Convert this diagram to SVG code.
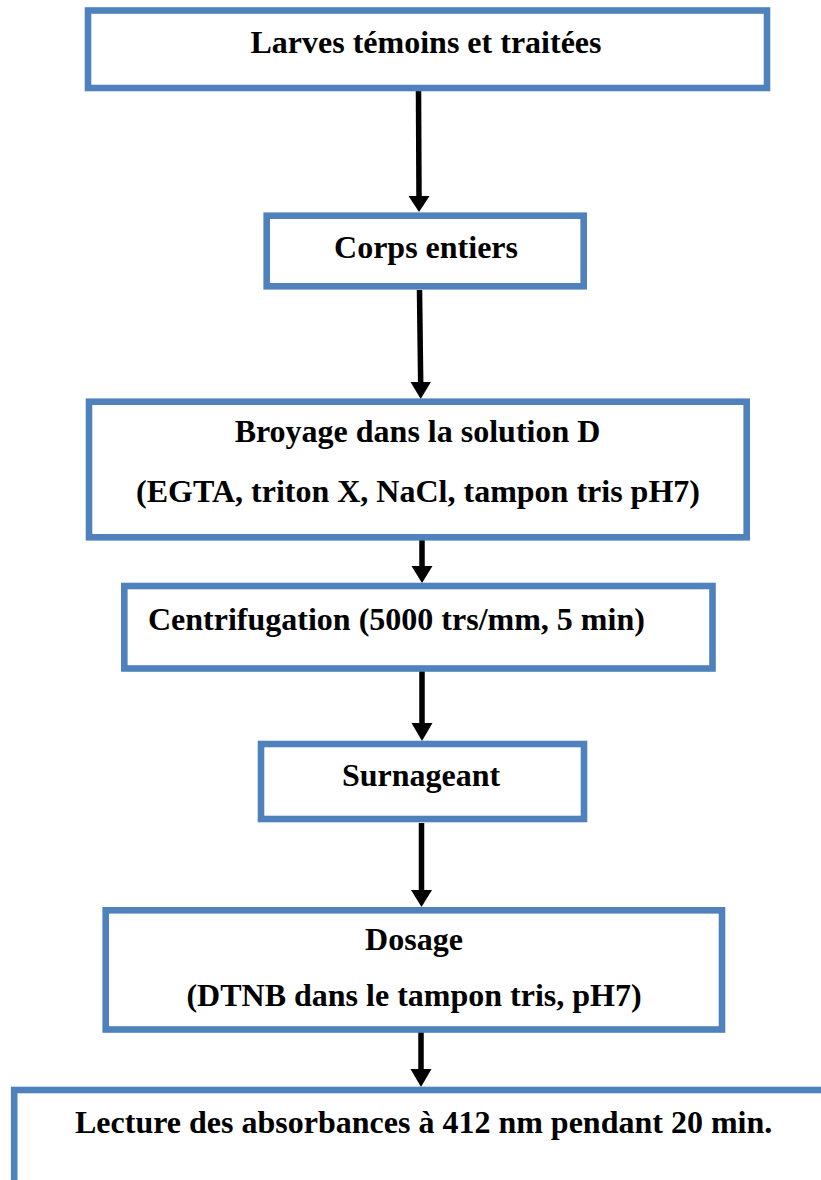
<svg xmlns="http://www.w3.org/2000/svg" width="821" height="1180" viewBox="0 0 821 1180">
<style>
.box{fill:#ffffff;stroke:#4F81BD;stroke-width:6.6}
.t{font-family:"Liberation Serif","Times New Roman",serif;font-weight:bold;font-size:32px;fill:#000000}
.c{text-anchor:middle}
.sh{stroke:#000000;stroke-width:5.5;fill:none}
.hd{fill:#000000}
</style>
<rect width="821" height="1180" fill="#ffffff"/>
<g id="connectors">
<line class="sh" x1="418.5" y1="91" x2="419" y2="198"/>
<polygon class="hd" points="408.5,196 429.5,196 419,212"/>
<line class="sh" x1="419.5" y1="290" x2="420.7" y2="384"/>
<polygon class="hd" points="410.5,382 430.9,382 420.7,399"/>
<line class="sh" x1="422" y1="531" x2="422" y2="568"/>
<polygon class="hd" points="411.5,566 432.5,566 422,583"/>
<line class="sh" x1="422" y1="671" x2="422" y2="725"/>
<polygon class="hd" points="411.5,723 432.5,723 422,741"/>
<line class="sh" x1="421.5" y1="823" x2="421.5" y2="892"/>
<polygon class="hd" points="411,890 432,890 421.5,907"/>
<line class="sh" x1="421" y1="1031" x2="421" y2="1071"/>
<polygon class="hd" points="410.5,1069 431.5,1069 421,1087"/>
</g>
<g id="n1">
<rect class="box" x="88" y="10.5" width="679" height="77.5"/>
<text class="t c" x="426" y="53">Larves témoins et traitées</text>
</g>
<g id="n2">
<rect class="box" x="266.7" y="215.7" width="317" height="70.6"/>
<text class="t c" x="426" y="258">Corps entiers</text>
</g>
<g id="n3">
<rect class="box" x="89" y="401.7" width="657.7" height="135.6"/>
<text class="t c" x="417.5" y="442">Broyage dans la solution D</text>
<text class="t c" x="418" y="502">(EGTA, triton X, NaCl, tampon tris pH7)</text>
</g>
<g id="n4">
<rect class="box" x="124.3" y="586" width="588.2" height="82.5"/>
<text class="t" x="148" y="630">Centrifugation (5000 trs/mm, 5 min)</text>
</g>
<g id="n5">
<rect class="box" x="261" y="744" width="323" height="75"/>
<text class="t c" x="421" y="786">Surnageant</text>
</g>
<g id="n6">
<rect class="box" x="105.7" y="910.3" width="616.3" height="119.2"/>
<text class="t c" x="414" y="950">Dosage</text>
<text class="t c" x="414" y="1006">(DTNB dans le tampon tris, pH7)</text>
</g>
<g id="n7">
<rect class="box" x="14.2" y="1090" width="830" height="120"/>
<text class="t" x="75" y="1133">Lecture des absorbances à 412 nm pendant 20 min.</text>
</g>
</svg>
